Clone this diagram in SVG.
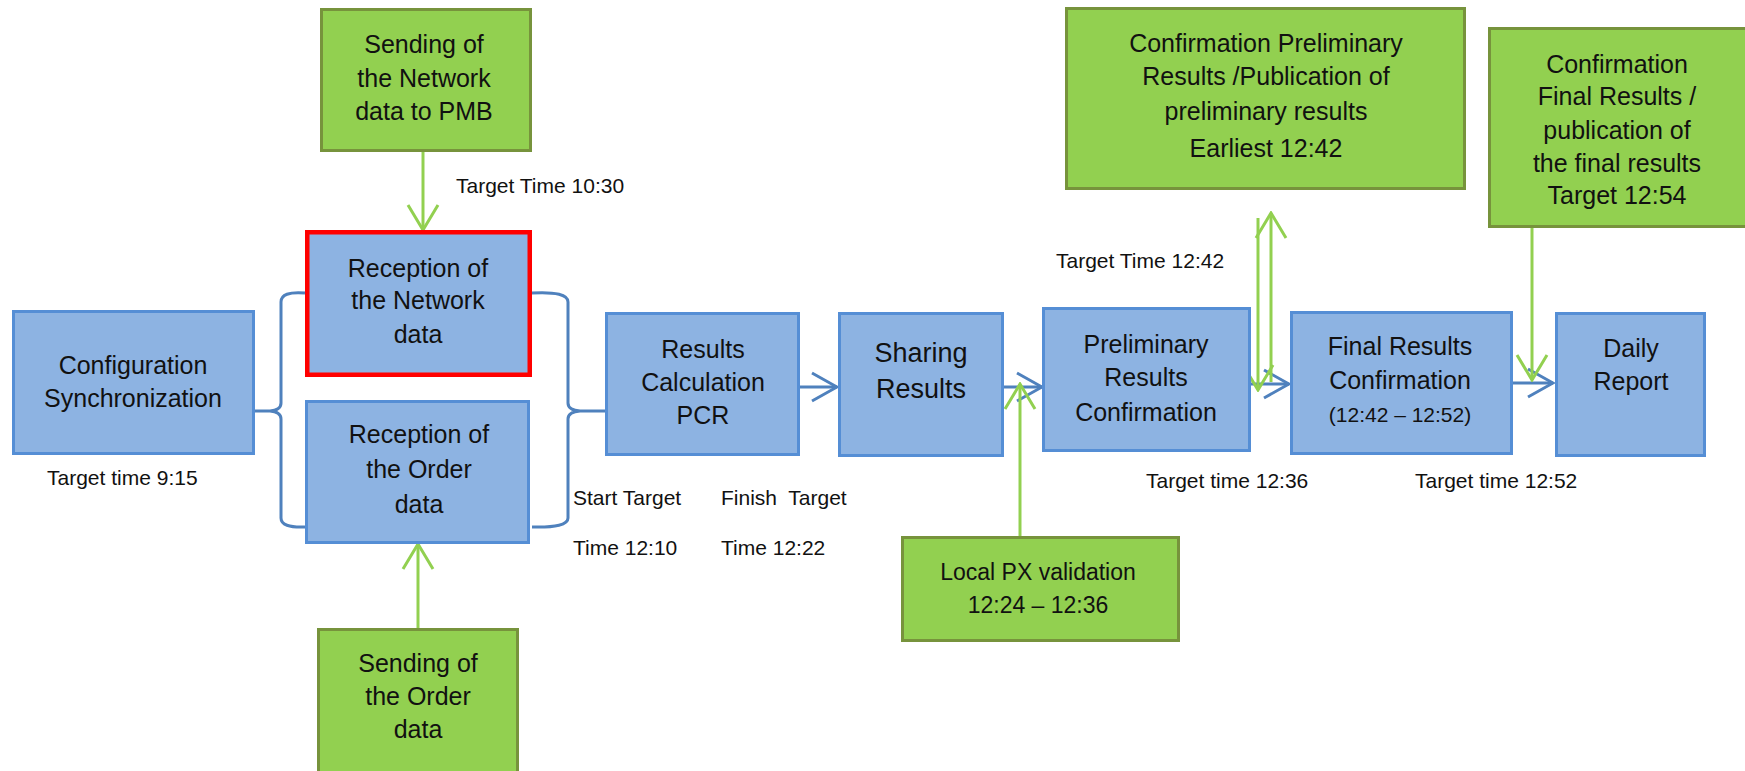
<svg xmlns="http://www.w3.org/2000/svg" width="1745" height="771" viewBox="0 0 1745 771">
<defs>
<style>
.blue{fill:#8db3e2;stroke:#558ed5;stroke-width:3}
.red{fill:#8db3e2;stroke:#ff0000;stroke-width:4.5}
.green{fill:#92d050;stroke:#77933c;stroke-width:3}
text{font-family:"Liberation Sans",Arial,sans-serif;fill:#111}
.t{font-size:25px;text-anchor:middle}
.s{font-size:21px}
.m{font-size:21px;text-anchor:middle}
.p{font-size:23px;text-anchor:middle}
.bl{stroke:#4f81bd;stroke-width:3;fill:none}
.gr{stroke:#92d050;stroke-width:3;fill:none}
</style>
<marker id="ab" markerUnits="userSpaceOnUse" viewBox="0 0 28 32" refX="26" refY="16" markerWidth="28" markerHeight="32" orient="auto">
<path d="M1,2 L26,16 L1,30" fill="none" stroke="#4f81bd" stroke-width="3"/>
</marker>
<marker id="ag" markerUnits="userSpaceOnUse" viewBox="0 0 28 34" refX="26" refY="17" markerWidth="28" markerHeight="34" orient="auto">
<path d="M1,2 L26,17 L1,32" fill="none" stroke="#92d050" stroke-width="3"/>
</marker>
</defs>

<g id="connectors">
<path class="bl" d="M305,293 Q281,291 281,302 L281,403 Q281,410 270,411 L255,411 M270,411 Q281,412 281,419 L281,518 Q281,528 305,527"/>
<path class="bl" d="M532,293 Q568,291 568,302 L568,403 Q568,410 580,411 L605,411 M580,411 Q568,412 568,419 L568,518 Q568,528 532,527"/>
<line class="bl" x1="800" y1="387" x2="837" y2="387" marker-end="url(#ab)"/>
<line class="bl" x1="1003" y1="387" x2="1042" y2="387" marker-end="url(#ab)"/>
<line class="bl" x1="1251" y1="384" x2="1289" y2="384" marker-end="url(#ab)"/>
<line class="bl" x1="1513" y1="383" x2="1553" y2="383" marker-end="url(#ab)"/>
<line class="gr" x1="423" y1="152" x2="423" y2="230" marker-end="url(#ag)"/>
<line class="gr" x1="418" y1="628" x2="418" y2="544" marker-end="url(#ag)"/>
<line class="gr" x1="1020" y1="536" x2="1020" y2="384" marker-end="url(#ag)"/>
<line class="gr" x1="1271" y1="382" x2="1271" y2="213" marker-end="url(#ag)"/>
<line class="gr" x1="1258" y1="218" x2="1258" y2="390" marker-end="url(#ag)"/>
<line class="gr" x1="1532" y1="228" x2="1532" y2="380" marker-end="url(#ag)"/>
</g>

<g id="config">
<rect class="blue" x="13.5" y="311.5" width="240" height="142"/>
<text class="t" x="133" y="374">Configuration</text>
<text class="t" x="133" y="407">Synchronization</text>
</g>

<g id="send-network">
<rect class="green" x="321.5" y="9.5" width="209" height="141"/>
<text class="t" x="424" y="53">Sending of</text>
<text class="t" x="424" y="87">the Network</text>
<text class="t" x="424" y="120">data to PMB</text>
</g>

<g id="recv-network">
<rect class="red" x="307.25" y="232.25" width="222.5" height="142.5"/>
<text class="t" x="418" y="277">Reception of</text>
<text class="t" x="418" y="309">the Network</text>
<text class="t" x="418" y="343">data</text>
</g>

<g id="recv-order">
<rect class="blue" x="306.5" y="401.5" width="222" height="141"/>
<text class="t" x="419" y="443">Reception of</text>
<text class="t" x="419" y="478">the Order</text>
<text class="t" x="419" y="513">data</text>
</g>

<g id="send-order">
<rect class="green" x="318.5" y="629.5" width="199" height="150"/>
<text class="t" x="418" y="672">Sending of</text>
<text class="t" x="418" y="705">the Order</text>
<text class="t" x="418" y="738">data</text>
</g>

<g id="results-calc">
<rect class="blue" x="606.5" y="313.5" width="192" height="141"/>
<text class="t" x="703" y="358">Results</text>
<text class="t" x="703" y="391">Calculation</text>
<text class="t" x="703" y="424">PCR</text>
</g>

<g id="sharing">
<rect class="blue" x="839.5" y="313.5" width="163" height="142"/>
<text class="t" x="921" y="362" style="font-size:27px">Sharing</text>
<text class="t" x="921" y="398" style="font-size:27px">Results</text>
</g>

<g id="local-px">
<rect class="green" x="902.5" y="537.5" width="276" height="103"/>
<text class="p" x="1038" y="580">Local PX validation</text>
<text class="p" x="1038" y="613">12:24 – 12:36</text>
</g>

<g id="prelim">
<rect class="blue" x="1043.5" y="308.5" width="206" height="142"/>
<text class="t" x="1146" y="353">Preliminary</text>
<text class="t" x="1146" y="386">Results</text>
<text class="t" x="1146" y="421">Confirmation</text>
</g>

<g id="conf-prelim">
<rect class="green" x="1066.5" y="8.5" width="398" height="180"/>
<text class="t" x="1266" y="52">Confirmation Preliminary</text>
<text class="t" x="1266" y="85">Results /Publication of</text>
<text class="t" x="1266" y="120">preliminary results</text>
<text class="t" x="1266" y="157">Earliest 12:42</text>
</g>

<g id="final">
<rect class="blue" x="1291.5" y="312.5" width="220" height="141"/>
<text class="t" x="1400" y="355">Final Results</text>
<text class="t" x="1400" y="389">Confirmation</text>
<text class="m" x="1400" y="422">(12:42 – 12:52)</text>
</g>

<g id="conf-final">
<rect class="green" x="1489.5" y="28.5" width="260" height="198"/>
<text class="t" x="1617" y="73">Confirmation</text>
<text class="t" x="1617" y="105">Final Results /</text>
<text class="t" x="1617" y="139">publication of</text>
<text class="t" x="1617" y="172">the final results</text>
<text class="t" x="1617" y="204">Target 12:54</text>
</g>

<g id="daily">
<rect class="blue" x="1556.5" y="313.5" width="148" height="142"/>
<text class="t" x="1631" y="357">Daily</text>
<text class="t" x="1631" y="390">Report</text>
</g>

<g id="labels">
<text class="s" x="456" y="193">Target Time 10:30</text>
<text class="s" x="47" y="485">Target time 9:15</text>
<text class="s" x="573" y="505">Start Target</text>
<text class="s" x="573" y="555">Time 12:10</text>
<text class="s" x="721" y="505" xml:space="preserve">Finish  Target</text>
<text class="s" x="721" y="555">Time 12:22</text>
<text class="s" x="1056" y="268">Target Time 12:42</text>
<text class="s" x="1146" y="488">Target time 12:36</text>
<text class="s" x="1415" y="488">Target time 12:52</text>
</g>
</svg>
